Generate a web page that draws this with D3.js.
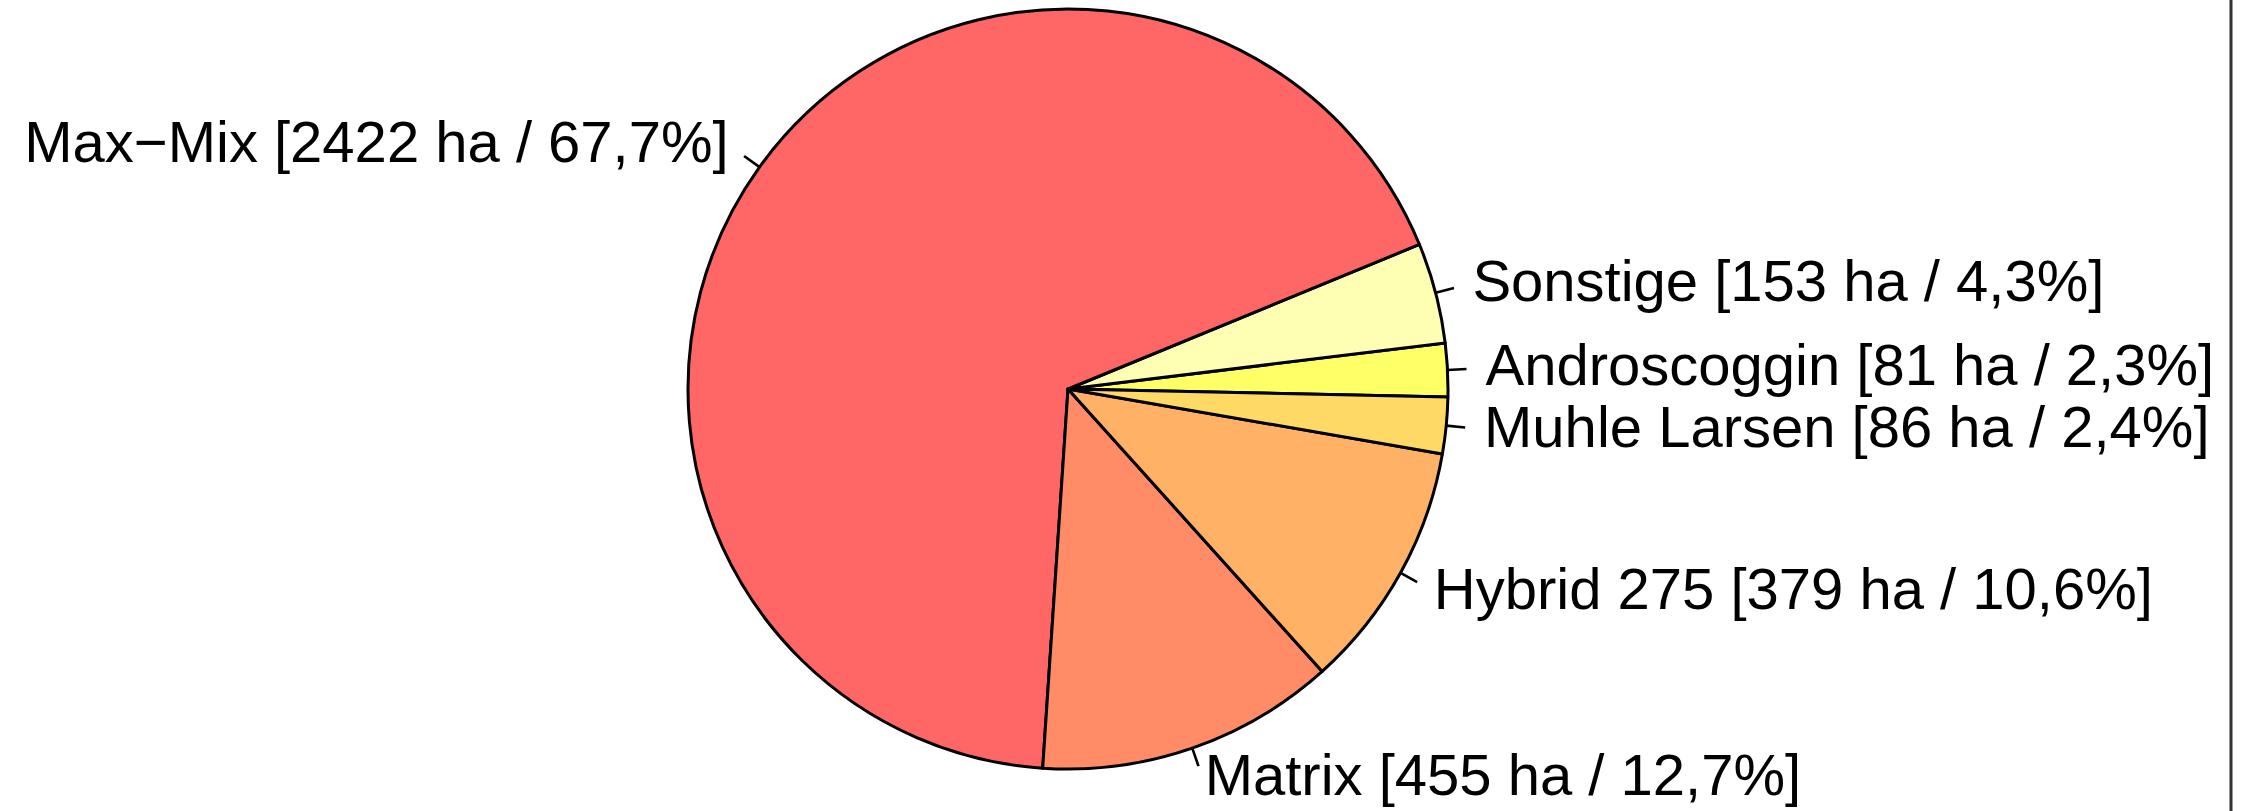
<!DOCTYPE html>
<html>
<head>
<meta charset="utf-8">
<script src="https://cdn.jsdelivr.net/npm/d3@7/dist/d3.min.js"></script>
<style>
  html, body { margin: 0; padding: 0; background: #ffffff; }
  svg { display: block; }
</style>
</head>
<body>
<svg id="chart" width="2249" height="811"></svg>
<script>
// ---- data (counter-clockwise order, as drawn) ----
const categories = ["Androscoggin", "Sonstige", "Max\u2212Mix", "Matrix", "Hybrid 275", "Muhle Larsen"];
const hectares   = [81, 153, 2422, 455, 379, 86];
const percents   = ["2,3", "4,3", "67,7", "12,7", "10,6", "2,4"];
const colors     = ["#ffff66", "#ffffb4", "#ff6666", "#ff8c66", "#ffb266", "#ffd966"];

const W = 2249, H = 811;
const cx = 1068, cy = 389, R = 380;
const fontSize = 58;
const startDeg = 91.2; // d3 angle (clockwise from 12 o'clock)
const toRad = d => d * Math.PI / 180;

const svg = d3.select("#chart");
const g = svg.append("g").attr("transform", `translate(${cx},${cy})`);

const data = categories.map((c, i) => ({ name: c, ha: hectares[i], pct: percents[i], color: colors[i] }));

const pie = d3.pie()
  .value(d => d.ha)
  .sort(null)
  .startAngle(toRad(startDeg))
  .endAngle(toRad(startDeg - 360));

const arcs = pie(data);
const arc = d3.arc().innerRadius(0).outerRadius(R);

g.selectAll("path.slice")
  .data(arcs)
  .join("path")
  .attr("class", "slice")
  .attr("d", arc)
  .attr("fill", d => d.data.color)
  .attr("stroke", "#000")
  .attr("stroke-width", 3)
  .attr("stroke-linejoin", "round");

const mid = d => (d.startAngle + d.endAngle) / 2;
const px = (d, k) => k * R * Math.sin(mid(d));
const py = (d, k) => -k * R * Math.cos(mid(d));

g.selectAll("line.tick")
  .data(arcs)
  .join("line")
  .attr("class", "tick")
  .attr("x1", d => px(d, 1)).attr("y1", d => py(d, 1))
  .attr("x2", d => px(d, 1.05)).attr("y2", d => py(d, 1.05))
  .attr("stroke", "#000")
  .attr("stroke-width", 2.6);

// baseline: vertically centred, but kept inside the picture
const baseline = d => {
  const b = py(d, 1.1) + 0.3 * fontSize;
  const maxB = (H - cy) - 0.24 * fontSize - 2;
  return Math.min(b, maxB);
};

g.selectAll("text.lbl")
  .data(arcs)
  .join("text")
  .attr("class", "lbl")
  .attr("x", d => px(d, 1.1))
  .attr("y", d => baseline(d))
  .attr("text-anchor", d => px(d, 1) < 0 ? "end" : "start")
  .attr("font-family", "'Liberation Sans', Arial, Helvetica, sans-serif")
  .attr("font-size", fontSize)
  .attr("fill", "#000")
  .text(d => `${d.data.name} [${d.data.ha} ha / ${d.data.pct}%]`);

// right frame edge
svg.append("line")
  .attr("x1", 2231).attr("x2", 2231)
  .attr("y1", 0).attr("y2", H)
  .attr("stroke", "#333")
  .attr("stroke-width", 3);
</script>
</body>
</html>
